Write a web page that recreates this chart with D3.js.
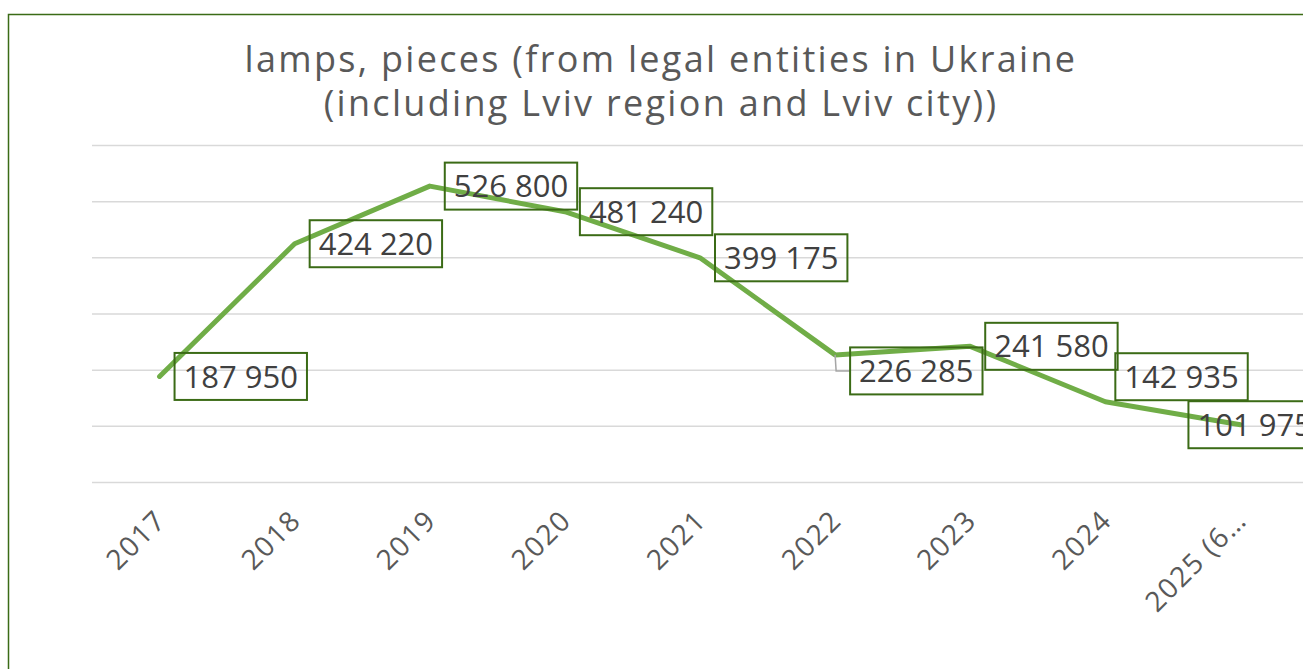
<!DOCTYPE html>
<html lang="en">

<head>
    <meta charset="UTF-8">
    <script src="https://d3js.org/d3.v7.min.js"></script>
    <title>Lamps</title>
    <style>
        body { margin: 0; background: #fff; }
        text { font-family: "Open Sans", "Noto Sans", sans-serif; }
    </style>
</head>

<body>
    <div id="chart"></div>
    <script>
        var width = 1303;
        var height = 669;

        // data
        const years = ["2017", "2018", "2019", "2020", "2021", "2022", "2023", "2024", "2025 (6 months)"];
        const lamps = [187950, 424220, 526800, 481240, 399175, 226285, 241580, 142935, 101975];
        const gridTicks = [0, 100000, 200000, 300000, 400000, 500000, 600000];
        const titleLines = ["lamps, pieces (from legal entities in Ukraine", "(including Lviv region and Lviv city))"];

        // label nudges (manual, like in the original)
        const nudge = { 5: [0, 16], 7: [-5, -25], 8: [-67, 0] };

        var svg = d3.select("#chart").append("svg")
            .attr("width", width).attr("height", height);

        // outer border
        svg.append("rect")
            .attr("x", 8.5).attr("y", 14.5)
            .attr("width", 1400).attr("height", 700)
            .attr("fill", "none").attr("stroke", "#3b6b16").attr("stroke-width", 1.5);

        // title
        svg.append("g").selectAll("text").data(titleLines).enter().append("text")
            .attr("x", 661).attr("y", (d, i) => 72 + i * 44)
            .attr("text-anchor", "middle")
            .attr("fill", "#595959")
            .style("font-size", "36px")
            .style("letter-spacing", "2.3px")
            .text(d => d);

        const x = d3.scaleBand().domain(years).range([92, 1308]).padding(0);
        const y = d3.scaleLinear().domain([0, 600000]).range([482, 145]);
        const cx = d => x(d) + x.bandwidth() / 2;

        // gridlines
        svg.append("g")
            .attr("transform", "translate(92,0)")
            .call(d3.axisLeft(y).tickValues(gridTicks).tickSize(-1216).tickFormat(""))
            .call(g => g.select(".domain").remove())
            .call(g => g.selectAll("line").attr("stroke", "#d9d9d9").attr("stroke-width", 1.5));

        // x labels
        const shortLabel = s => s.length > 7 ? s.slice(0, 7) + "\u2026" : s;
        svg.append("g").selectAll("text").data(years).enter().append("text")
            .attr("transform", d => "translate(" + (cx(d) + 8) + ",522) rotate(-45)")
            .attr("text-anchor", "end")
            .attr("fill", "#595959")
            .style("font-size", "28px")
            .style("letter-spacing", "1.5px")
            .text(d => shortLabel(d));

        // line
        const line = d3.line().x((d, i) => cx(years[i])).y(d => y(d));
        svg.append("path").datum(lamps)
            .attr("d", line)
            .attr("fill", "none")
            .attr("stroke", "#70ad47")
            .attr("stroke-width", 5)
            .attr("stroke-linejoin", "round")
            .attr("stroke-linecap", "round");

        // data labels
        const fmt = v => d3.format(",")(v).replace(/,/g, " ");
        const labels = svg.append("g").selectAll("g").data(lamps).enter().append("g");
        labels.each(function (v, i) {
            const g = d3.select(this);
            const px = cx(years[i]), py = y(v);
            const n = nudge[i] || [0, 0];
            const bx = px + 15 + n[0], by = py + n[1];
            const t = g.append("text")
                .attr("x", bx + 9).attr("y", by)
                .attr("dy", "0.36em")
                .attr("fill", "#404040")
                .style("font-size", "31px")
                .text(fmt(v));
            const w = t.node().getComputedTextLength() + 18;
            g.insert("rect", "text")
                .attr("x", bx).attr("y", by - 23.5)
                .attr("width", w).attr("height", 47)
                .attr("fill", "none")
                .attr("stroke", "#3b6b16").attr("stroke-width", 2);
            if (i === 5) {
                g.insert("path", "rect")
                    .attr("d", d3.line()([[px, py], [px + 1, by], [bx, by]]))
                    .attr("fill", "none").attr("stroke", "#a6a6a6").attr("stroke-width", 1.5);
            }
        });
    </script>
</body>

</html>
